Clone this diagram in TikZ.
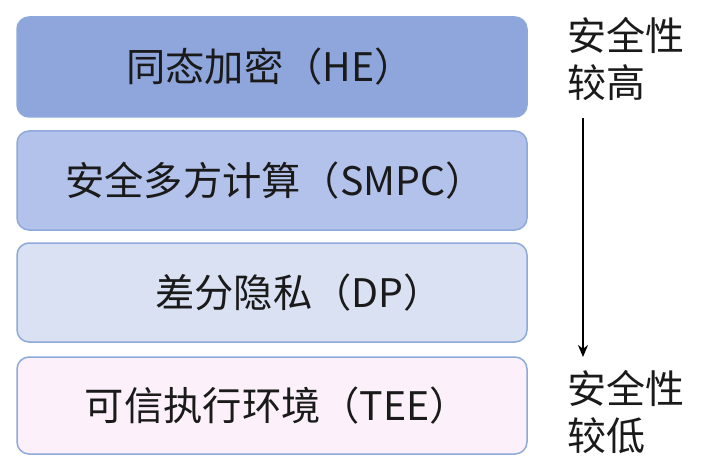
\documentclass[tikz,border=0pt]{standalone}
\usepackage{fontspec}
\setmainfont{Noto Sans CJK SC}
\usetikzlibrary{arrows.meta}
\definecolor{bordc}{HTML}{8EA9DB}
\definecolor{fa}{HTML}{8FA6DC}
\definecolor{fb}{HTML}{B3C2EB}
\definecolor{fc}{HTML}{D9E1F2}
\definecolor{fd}{HTML}{FCF0FA}
\definecolor{txt}{HTML}{1A1A1A}
\tikzset{
  layer/.style={draw=bordc, line width=1.5pt, rounded corners=12pt},
  lbl/.style={font=\fontsize{39.3}{40}\selectfont, text=txt, inner sep=0pt, anchor=center},
  side/.style={font=\fontsize{39}{47}\selectfont, text=txt, inner sep=0pt, anchor=north west, align=left},
}
\begin{document}
\begin{tikzpicture}[x=1pt,y=-1pt]
\useasboundingbox (0,0) rectangle (701,476);
\fill[white] (0,0) rectangle (701,476);
\draw[layer, fill=fa] (17,17) rectangle (527,117);
\draw[layer, fill=fb] (17,131) rectangle (527,230);
\draw[layer, fill=fc] (17,243) rectangle (527,342);
\draw[layer, fill=fd] (17,357) rectangle (527,454);
\node[lbl] (he) at (270,67) {同态加密（HE）};
\node[lbl] (smpc) at (275,181) {安全多方计算（SMPC）};
\node[lbl] (dp) at (299,293) {差分隐私（DP）};
\node[lbl] (tee) at (277,406) {可信执行环境（TEE）};
\node[side] (hi) at (567,17) {安全性\\较高};
\node[side] (lo) at (567,370) {安全性\\较低};
\coordinate (atop) at (583,118);
\coordinate (abot) at (583,357);
\draw[line width=2.5pt, -{Stealth[length=12pt,width=10pt]}] (atop) -- (abot);
\end{tikzpicture}
\end{document}
